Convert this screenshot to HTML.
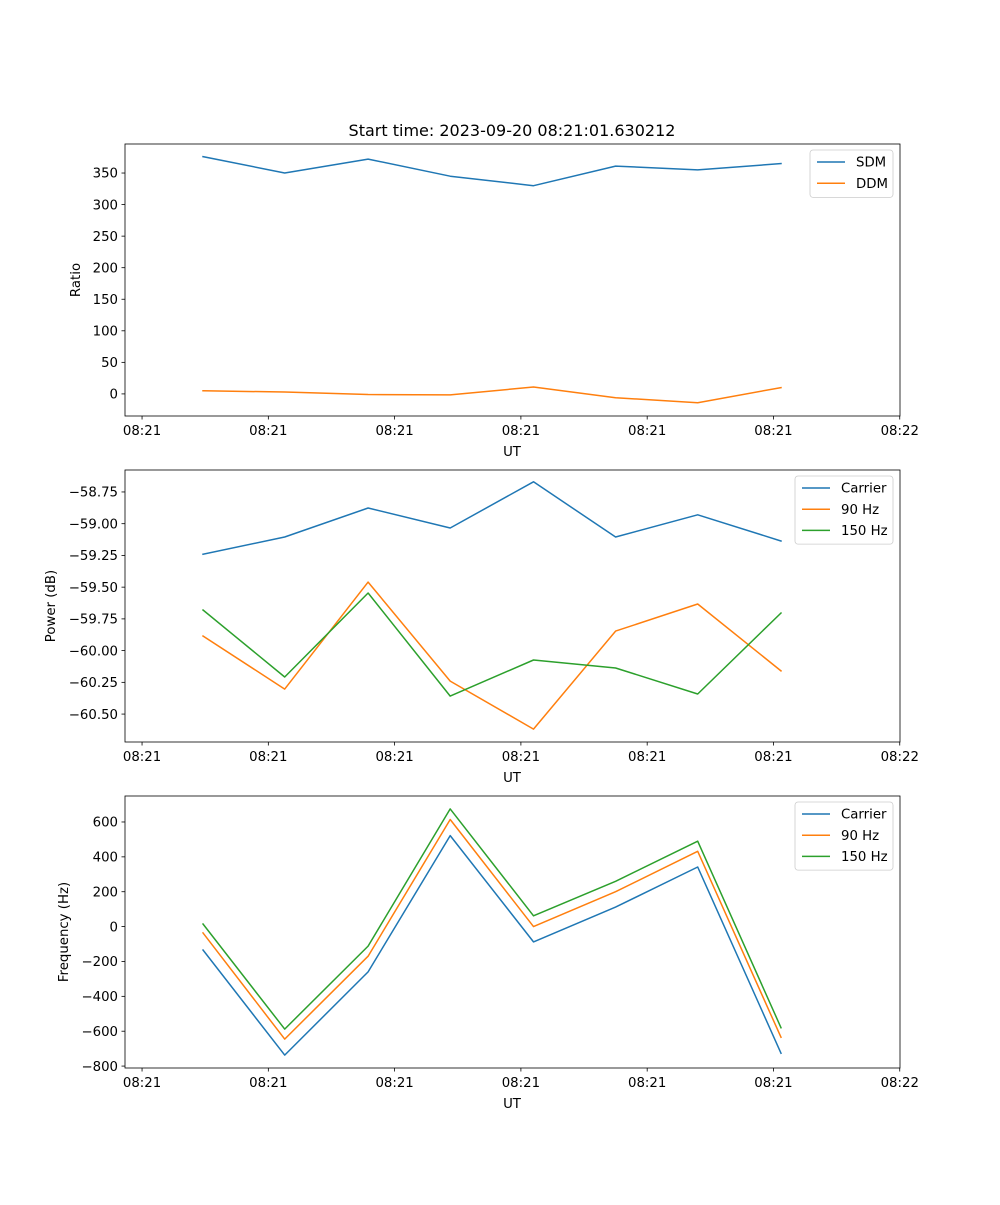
<!DOCTYPE html>
<html><head><meta charset="utf-8">
<style>
html,body{margin:0;padding:0;background:#fff;}
svg text{font-family:"DejaVu Sans","Liberation Sans",sans-serif;font-size:13.3px;fill:#000;}
</style></head>
<body>
<svg id="fig" width="1000" height="1200" viewBox="0 0 1000 1200" xmlns="http://www.w3.org/2000/svg">
<rect width="1000" height="1200" fill="#fff"/>
<text x="512" y="136" text-anchor="middle" style="font-size:16px">Start time: 2023-09-20 08:21:01.630212</text>
</svg>
<script>
// time offsets (seconds after 08:21:00)
const times = [4.83, 11.3, 17.9, 24.4, 31.0, 37.5, 44.0, 50.6];
const xTickVals = [0, 10, 20, 30, 40, 50, 60];
const xTickLabels = ["08:21","08:21","08:21","08:21","08:21","08:21","08:22"];

const sdm = [376, 350, 372, 345, 330, 361, 355, 365];
const ddm = [5, 3, -1, -1.5, 11, -6, -14, 10];
const ratioTicks = [0, 50, 100, 150, 200, 250, 300, 350];

const powCarrier = [-59.24, -59.105, -58.876, -59.034, -58.67, -59.105, -58.93, -59.136];
const pow90 = [-59.885, -60.303, -59.46, -60.24, -60.618, -59.846, -59.633, -60.16];
const pow150 = [-59.68, -60.208, -59.546, -60.358, -60.074, -60.137, -60.342, -59.704];
const powTicks = [-60.5, -60.25, -60.0, -59.75, -59.5, -59.25, -59.0, -58.75];
const powTickLabels = ["\u221260.50","\u221260.25","\u221260.00","\u221259.75","\u221259.50","\u221259.25","\u221259.00","\u221258.75"];

const freqCarrier = [-134, -737, -260, 522, -88, 112, 342, -726];
const freq90 = [-36, -645, -170, 614, 0, 200, 432, -635];
const freq150 = [15, -588, -112, 675, 62, 260, 490, -580];
const freqTicks = [-800, -600, -400, -200, 0, 200, 400, 600];

const NS = "http://www.w3.org/2000/svg";
const svg = document.getElementById('fig');
const C = {blue:"#1f77b4", orange:"#ff7f0e", green:"#2ca02c"};
const L = 125, R = 900, X0 = -1.35, X1 = 60.02;
function xs(v){ return L + (v - X0) / (X1 - X0) * (R - L); }
function mk(tag, attrs, parent){ const e = document.createElementNS(NS, tag); for (const k in attrs) e.setAttribute(k, attrs[k]); (parent||svg).appendChild(e); return e; }
function fmt(v){ return v < 0 ? "\u2212" + Math.abs(v) : String(v); }

function panel(cfg){
  const g = mk('g', {});
  
  
  const T = cfg.top, B = cfg.top + 272;
  const ys = v => B - (v - cfg.ymin) / (cfg.ymax - cfg.ymin) * (B - T);
  cfg.yticks.forEach((v, i) => {
    const y = ys(v);
    mk('line', {x1:L-3.5, x2:L, y1:y, y2:y, stroke:'#000', 'stroke-width':0.8}, g);
    const t = mk('text', {x:L-7, y:y+4.7, 'text-anchor':'end'}, g);
    t.textContent = cfg.ylabels ? cfg.ylabels[i] : fmt(v);
    
    
  });
  xTickVals.forEach((v, i) => {
    const x = xs(v);
    mk('line', {x1:x, x2:x, y1:B, y2:B+3.5, stroke:'#000', 'stroke-width':0.8}, g);
    const t = mk('text', {x:x, y:B+19, 'text-anchor':'middle'}, g);
    t.textContent = xTickLabels[i];
    
    
  });
  const xl = mk('text', {x:512, y:B+40, 'text-anchor':'middle'}, g);
  xl.textContent = 'UT';
  
  
  const yl = mk('text', {x:0, y:0, 'text-anchor':'middle', transform:`translate(${cfg.ylx},${(T+B)/2}) rotate(-90)`}, g);
  yl.textContent = cfg.ytitle;
  
  
  cfg.series.forEach(s => {
    const d = s.data.map((v, i) => (i ? 'L' : 'M') + xs(times[i]).toFixed(1) + ',' + ys(v).toFixed(1)).join(' ');
    const p = mk('path', {d:d, fill:'none', stroke:s.color, 'stroke-width':1.5, 'stroke-linejoin':'round', 'stroke-linecap':'square'}, g);
    
    
  });
  mk('rect', {x:L, y:T, width:R-L, height:B-T, fill:'none', stroke:'#000', 'stroke-width':0.8}, g);
  const lw = cfg.legW, lh = 6 + cfg.series.length * 20.7;
  const lx = R - 7 - lw, ly = T + 6;
  const lg = mk('g', {}, g);
  
  
  mk('rect', {x:lx, y:ly, width:lw, height:lh, rx:3, fill:'#fff', 'fill-opacity':0.8, stroke:'#ccc', 'stroke-width':0.8}, lg);
  cfg.series.forEach((s, i) => {
    const yy = ly + 12 + i * 21.2;
    mk('line', {x1:lx+7, x2:lx+35, y1:yy, y2:yy, stroke:s.color, 'stroke-width':1.5}, lg);
    const t = mk('text', {x:lx+46, y:yy+4.7}, lg);
    t.textContent = s.label;
    
    
  });
}

panel({name:'ratio-panel', top:144, ymin:-35, ymax:396, yticks:ratioTicks, ytitle:'Ratio', ylx:80, legW:83,
  series:[{label:'SDM', data:sdm, color:C.blue}, {label:'DDM', data:ddm, color:C.orange}]});
panel({name:'power-panel', top:470, ymin:-60.72, ymax:-58.577, yticks:powTicks, ylabels:powTickLabels, ytitle:'Power (dB)', ylx:55, legW:98,
  series:[{label:'Carrier', data:powCarrier, color:C.blue}, {label:'90 Hz', data:pow90, color:C.orange}, {label:'150 Hz', data:pow150, color:C.green}]});
panel({name:'frequency-panel', top:796, ymin:-811, ymax:749, yticks:freqTicks, ytitle:'Frequency (Hz)', ylx:68, legW:98,
  series:[{label:'Carrier', data:freqCarrier, color:C.blue}, {label:'90 Hz', data:freq90, color:C.orange}, {label:'150 Hz', data:freq150, color:C.green}]});
</script>
</body></html>
